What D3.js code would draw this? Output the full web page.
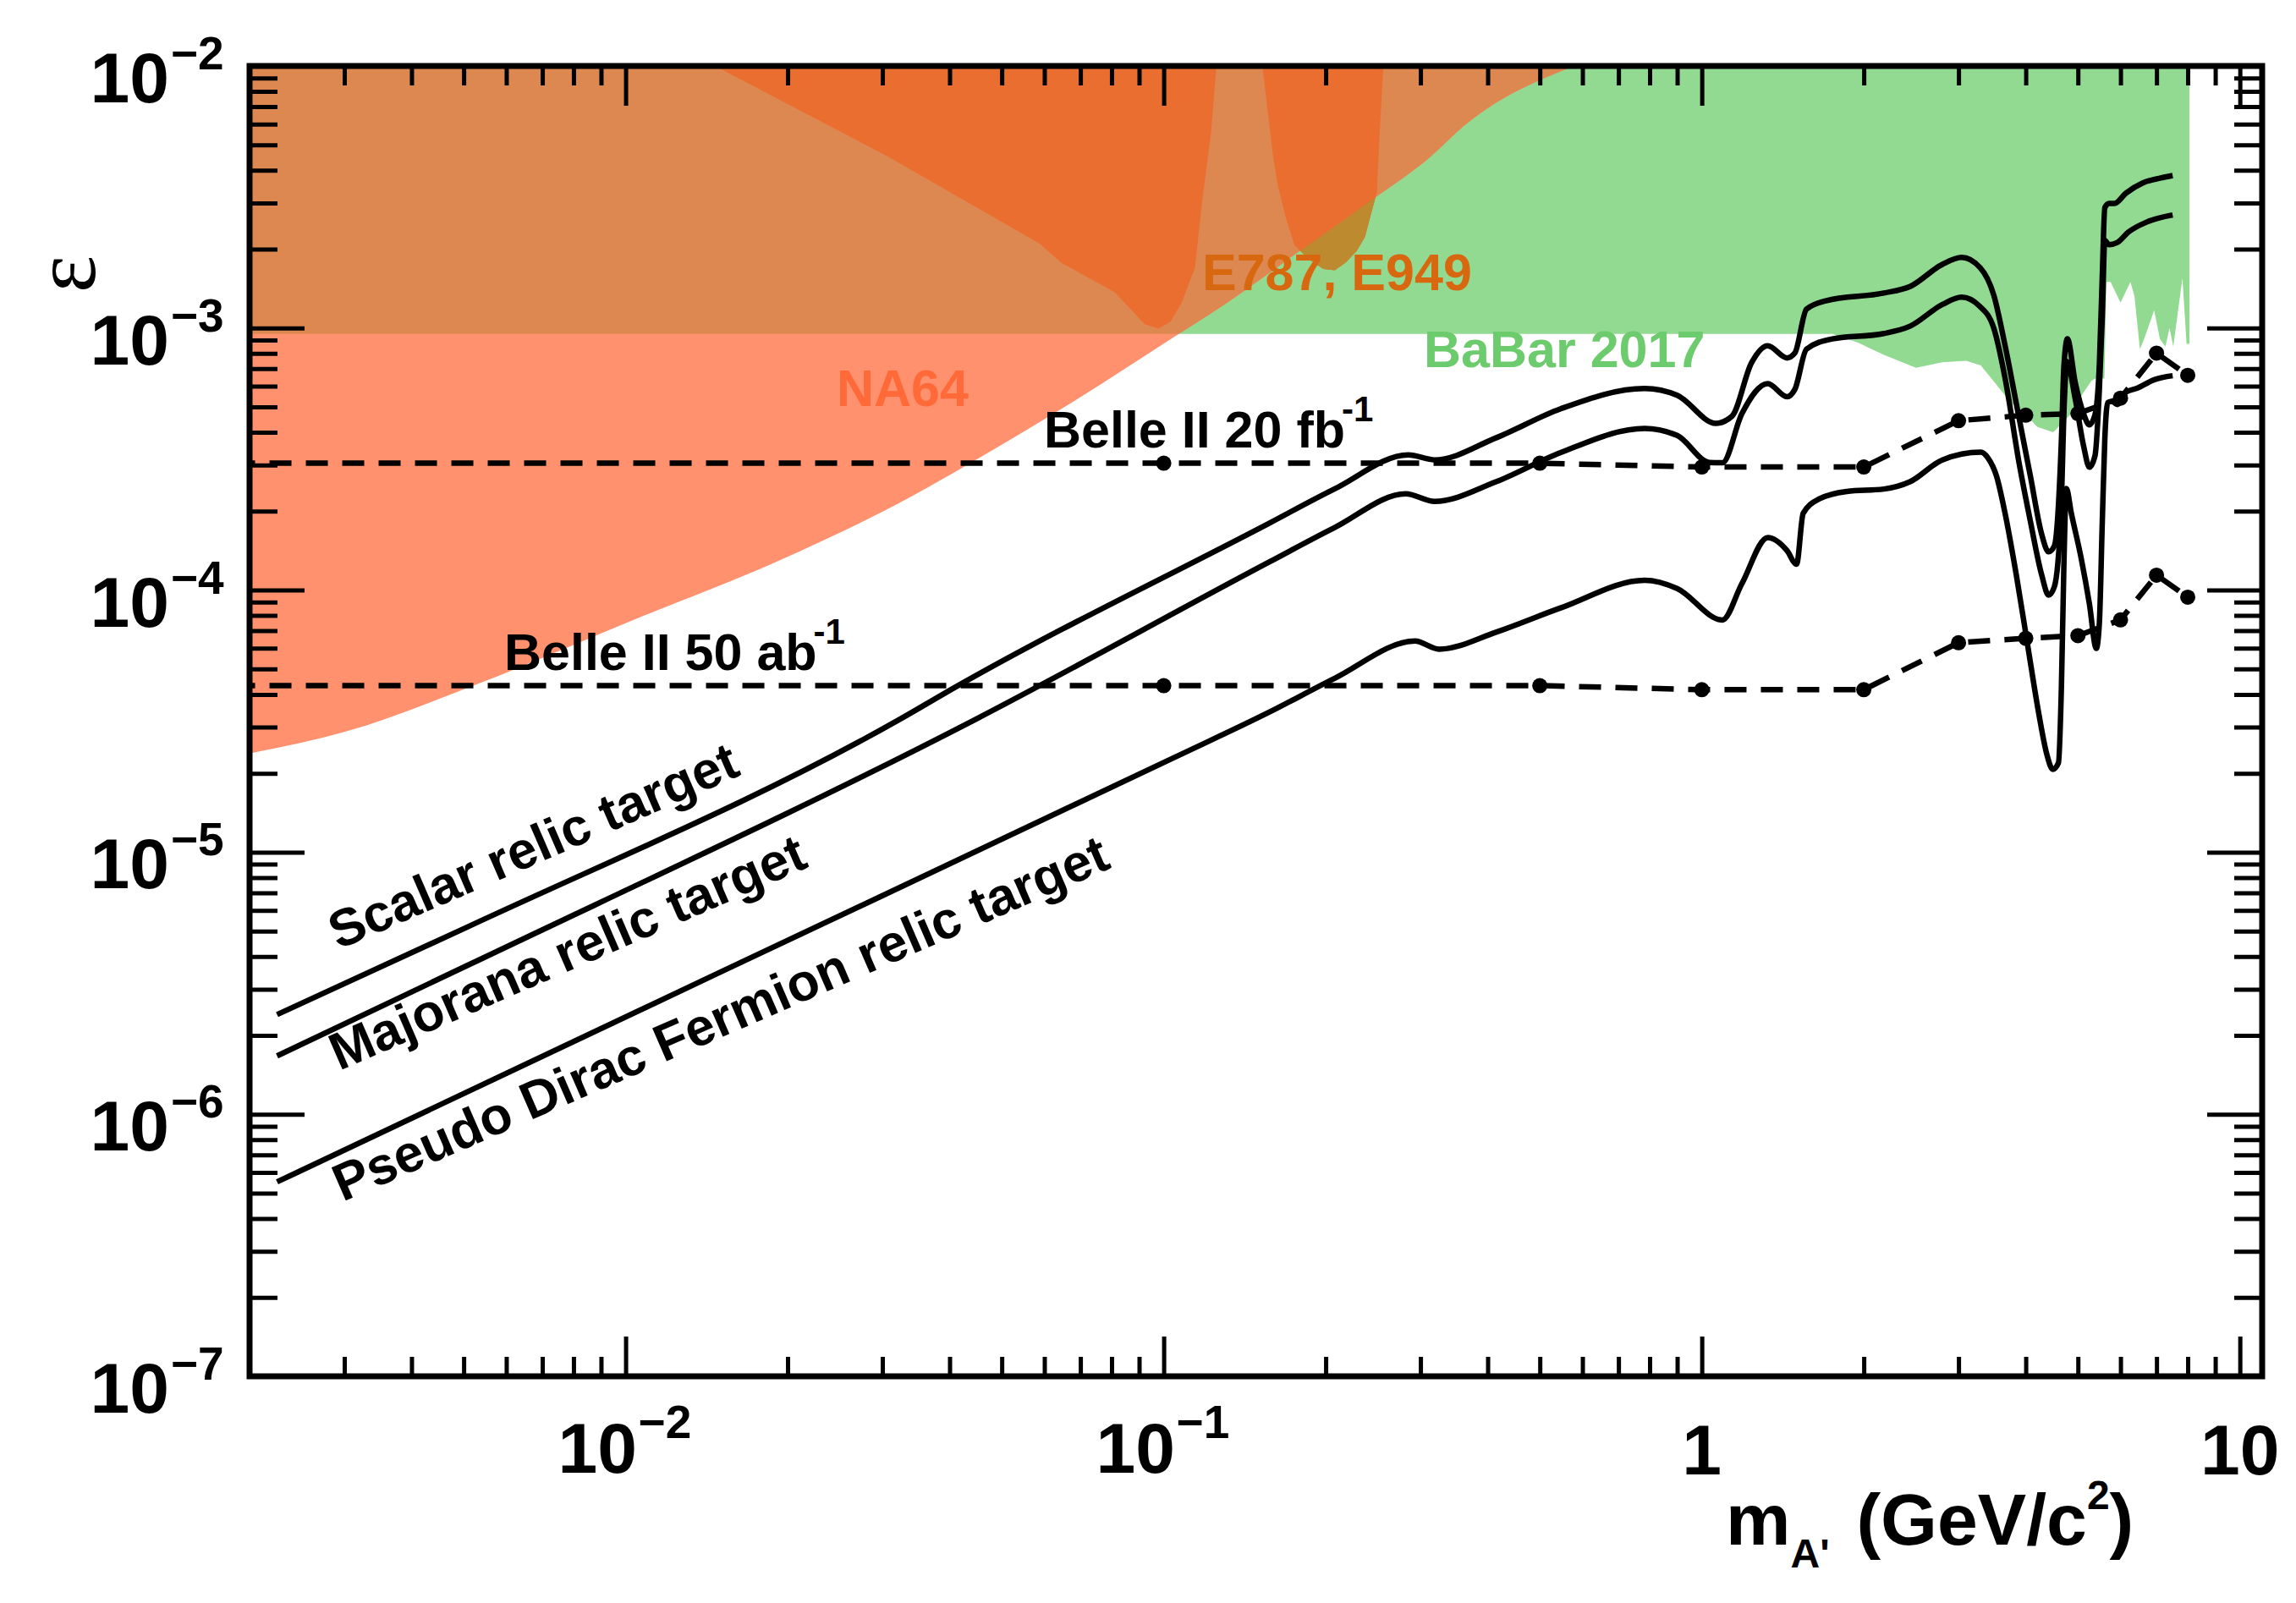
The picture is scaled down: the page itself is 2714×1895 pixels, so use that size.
<!DOCTYPE html>
<html>
<head>
<meta charset="utf-8">
<script src="https://cdn.jsdelivr.net/npm/d3@7"></script>
<style>
  body { margin: 0; background: #fff; }
  text { font-family: "Liberation Sans", Arial, Helvetica, sans-serif; font-weight: bold; }
</style>
</head>
<body>
<div id="graph"></div>
<script>
// ---- data (mass in GeV, epsilon) ----
var na64Mass = [0.002, 0.00301, 0.00521, 0.0106, 0.019, 0.034, 0.0439, 0.069, 0.105, 0.1297, 0.176, 0.244, 0.313, 0.361, 0.58];
var na64Eps  = [2.38e-5, 2.88e-5, 4.32e-5, 7.86e-5, 1.28e-4, 2.28e-4, 3.07e-4, 5.35e-4, 9.3e-4, 1.23e-3, 1.92e-3, 3.09e-3, 4.5e-3, 5.9e-3, 1e-2];
var na64Band = 9.5e-4; // where the NA64 colour changes

var babarMass = [0.05, 0.05, 8.06, 8.06, 7.96, 7.82, 7.52, 7.40, 7.27, 7.10, 6.93, 6.64, 6.52, 6.37, 6.26, 6.0, 5.75, 5.65, 5.6, 5.45, 5.3, 5.1, 4.85, 4.5, 4.2, 3.95, 3.75, 3.5, 3.3, 3.1, 2.8, 2.5, 2.18, 1.95, 1.75];
var babarEps  = [9.5e-4, 1e-2, 1e-2, 8.7e-4, 8.7e-4, 1.55e-3, 8.5e-4, 1.0e-3, 8.5e-4, 9.1e-4, 1.17e-3, 9.1e-4, 8.3e-4, 1.32e-3, 1.5e-3, 1.25e-3, 1.5e-3, 1.5e-3, 6.4e-4, 6.5e-4, 6.3e-4, 5.6e-4, 4.7e-4, 4.0e-4, 4.2e-4, 4.8e-4, 5.2e-4, 6.2e-4, 7.2e-4, 7.5e-4, 7.4e-4, 7.06e-4, 7.9e-4, 8.8e-4, 9.5e-4];

var e787aMass = [0.01466, 0.0308, 0.0588, 0.0646, 0.0811, 0.0922, 0.0978, 0.103, 0.108, 0.1143, 0.118, 0.1225, 0.1253];
var e787aEps  = [1e-2, 4.5e-3, 2.1e-3, 1.77e-3, 1.37e-3, 1.035e-3, 9.94e-4, 1.06e-3, 1.25e-3, 1.7e-3, 3.1e-3, 5.6e-3, 1e-2];
var e787bMass = [0.1525, 0.1597, 0.163, 0.169, 0.175, 0.186, 0.198, 0.208, 0.218, 0.2285, 0.2366, 0.2427, 0.249, 0.252, 0.256];
var e787bEps  = [1e-2, 4.5e-3, 3.48e-3, 2.59e-3, 2.07e-3, 1.83e-3, 1.68e-3, 1.66e-3, 1.78e-3, 1.97e-3, 2.23e-3, 2.72e-3, 3.3e-3, 5.6e-3, 1e-2];

var scalarMass = [0.00225, 0.0051, 0.0322, 0.0413, 0.157, 0.2075, 0.285, 0.3186, 0.4145, 0.5466, 0.783, 0.90, 1.062, 1.138, 1.237, 1.326, 1.44, 1.489, 1.565, 1.70, 2.18, 2.437, 2.80, 3.04, 3.29, 3.49, 3.66, 3.89, 4.08, 4.28, 4.41, 4.52, 4.66, 4.71, 4.78, 4.94, 5.13, 5.25, 5.38, 5.48, 5.55, 5.61, 5.71, 5.85, 6.14, 6.60, 7.10, 7.50];
var scalarEps  = [2.4e-6, 5.2e-6, 3.2e-5, 4.3e-5, 1.8e-4, 2.43e-4, 3.28e-4, 3.14e-4, 3.81e-4, 4.92e-4, 5.88e-4, 5.54e-4, 4.33e-4, 4.61e-4, 7.37e-4, 8.56e-4, 7.69e-4, 8.03e-4, 1.18e-3, 1.27e-3, 1.36e-3, 1.44e-3, 1.75e-3, 1.86e-3, 1.70e-3, 1.33e-3, 8.6e-4, 4.5e-4, 2.72e-4, 1.64e-4, 1.40e-4, 1.475e-4, 3.76e-4, 7.2e-4, 9.1e-4, 6.23e-4, 4.67e-4, 4.27e-4, 4.67e-4, 7.2e-4, 1.59e-3, 2.88e-3, 2.99e-3, 2.99e-3, 3.27e-3, 3.58e-3, 3.73e-3, 3.82e-3];

var majoranaMass = [0.00225, 0.0051, 0.0448, 0.157, 0.2075, 0.2818, 0.3186, 0.4145, 0.5466, 0.783, 0.90, 1.033, 1.092, 1.187, 1.326, 1.44, 1.489, 1.565, 1.748, 2.18, 2.437, 2.80, 3.04, 3.28, 3.49, 3.66, 3.89, 4.08, 4.28, 4.41, 4.52, 4.65, 4.72, 4.77, 4.94, 5.13, 5.25, 5.38, 5.48, 5.55, 5.61, 5.71, 5.92, 6.20, 6.72, 7.50];
var majoranaEps  = [1.67e-6, 3.71e-6, 3.22e-5, 1.28e-4, 1.73e-4, 2.33e-4, 2.18e-4, 2.59e-4, 3.35e-4, 4.14e-4, 3.89e-4, 3.07e-4, 3.06e-4, 4.71e-4, 6.14e-4, 5.47e-4, 5.83e-4, 8.31e-4, 9.09e-4, 9.53e-4, 1.016e-3, 1.23e-3, 1.312e-3, 1.214e-3, 9.96e-4, 6.46e-4, 3.03e-4, 1.83e-4, 1.147e-4, 9.57e-5, 1.029e-4, 1.968e-4, 5.4e-4, 7.46e-4, 5.4e-4, 3.5e-4, 2.945e-4, 3.26e-4, 5.8e-4, 1.109e-3, 2.16e-3, 2.08e-3, 2.12e-3, 2.32e-3, 2.54e-3, 2.70e-3];

var pseudoMass = [0.00225, 0.01506, 0.1057, 0.157, 0.2075, 0.2932, 0.3249, 0.4145, 0.5466, 0.783, 0.90, 1.092, 1.187, 1.326, 1.44, 1.50, 1.543, 1.654, 1.86, 2.18, 2.437, 2.80, 3.30, 3.40, 3.53, 3.66, 3.84, 4.03, 4.23, 4.38, 4.49, 4.60, 4.66, 4.71, 4.76, 4.86, 5.07, 5.25, 5.41, 5.48, 5.55, 5.61, 5.68, 5.78, 5.92, 6.14, 6.45, 6.93, 7.50];
var pseudoEps  = [5.52e-7, 3.5e-6, 2.32e-5, 3.42e-5, 4.6e-5, 6.39e-5, 5.95e-5, 6.91e-5, 8.55e-5, 1.09e-4, 1.014e-4, 7.69e-5, 1.058e-4, 1.587e-4, 1.415e-4, 1.255e-4, 1.964e-4, 2.23e-4, 2.38e-4, 2.43e-4, 2.59e-4, 3.14e-4, 3.36e-4, 3.2e-4, 2.72e-4, 1.97e-4, 1.147e-4, 6.21e-5, 3.37e-5, 2.35e-5, 2.07e-5, 2.19e-5, 4.33e-5, 1.277e-4, 2.44e-4, 1.97e-4, 1.324e-4, 8.91e-5, 5.99e-5, 7.44e-5, 1.83e-4, 3.76e-4, 5.2e-4, 5.25e-4, 5.11e-4, 5.69e-4, 5.9e-4, 6.35e-4, 6.58e-4];

var belleMass  = [0.001, 0.1, 0.5, 1, 2, 3, 4, 5, 6, 7, 8];
var belle20Eps = [3.05e-4, 3.05e-4, 3.05e-4, 2.95e-4, 2.95e-4, 4.43e-4, 4.65e-4, 4.72e-4, 5.4e-4, 8.02e-4, 6.6e-4];
var belle50Eps = [4.32e-5, 4.32e-5, 4.32e-5, 4.17e-5, 4.17e-5, 6.3e-5, 6.55e-5, 6.7e-5, 7.7e-5, 1.14e-4, 9.4e-5];

var xMajor = [0.01, 0.1, 1, 10];
var xMajorLabels = [["10", "\u22122"], ["10", "\u22121"], ["1", ""], ["10", ""]];
var yMajor = [1e-2, 1e-3, 1e-4, 1e-5, 1e-6, 1e-7];
var yMajorLabels = ["\u22122", "\u22123", "\u22124", "\u22125", "\u22126", "\u22127"];

// ---- layout ----
var width = 2714, height = 1895;
var padL = 295, padR = 2674, padT = 78, padB = 1627;

var svg = d3.select("#graph")
            .append("svg")
            .attr("width", width).attr("height", height);

var xScale = d3.scaleLog().domain([0.002, 11]).range([padL, padR]);
var yScale = d3.scaleLog().domain([1e-7, 1e-2]).range([padB, padT]);

var defs = svg.append("defs");
defs.append("clipPath").attr("id", "plot")
    .append("rect").attr("x", padL).attr("y", padT)
    .attr("width", padR - padL).attr("height", padB - padT);
defs.append("clipPath").attr("id", "band")
    .append("rect").attr("x", padL).attr("y", padT)
    .attr("width", padR - padL).attr("height", yScale(na64Band) - padT);

var na64Pts = d3.zip(na64Mass, na64Eps);
var na64Area = d3.area()
    .x(function(d) { return xScale(d[0]); })
    .y0(padT)
    .y1(function(d) { return yScale(d[1]); })
    .curve(d3.curveMonotoneX);
var belowNa64 = d3.area()
    .x(function(d) { return xScale(d[0]); })
    .y0(padB)
    .y1(function(d) { return yScale(d[1]); })
    .curve(d3.curveMonotoneX);
defs.append("clipPath").attr("id", "right-of-na64")
    .append("path").attr("d", belowNa64(na64Pts));

var poly = d3.line()
    .x(function(d) { return xScale(d[0]); })
    .y(function(d) { return yScale(d[1]); });
var smooth = d3.line()
    .x(function(d) { return xScale(d[0]); })
    .y(function(d) { return yScale(d[1]); })
    .curve(d3.curveMonotoneX);

var plot = svg.append("g").attr("clip-path", "url(#plot)");

// BaBar 2017
plot.append("path")
    .attr("d", poly(d3.zip(babarMass, babarEps)) + "Z")
    .attr("fill", "#92DA92");

// NA64
plot.append("path").attr("d", na64Area(na64Pts)).attr("fill", "#FF916F");
plot.append("g").attr("clip-path", "url(#band)")
    .append("path").attr("d", na64Area(na64Pts)).attr("fill", "#DE8851");

// E787, E949
var e787 = [d3.zip(e787aMass, e787aEps), d3.zip(e787bMass, e787bEps)];
plot.selectAll("path.e787")
    .data(e787).enter().append("path")
    .attr("class", "e787")
    .attr("d", function(d) { return poly(d) + "Z"; })
    .attr("fill", "#EB6E31");
plot.append("g").attr("clip-path", "url(#right-of-na64)")
    .selectAll("path")
    .data(e787).enter().append("path")
    .attr("d", function(d) { return poly(d) + "Z"; })
    .attr("fill", "#BD8A2F");

// Belle II projections
[belle20Eps, belle50Eps].forEach(function(eps) {
  var pts = d3.zip(belleMass, eps);
  plot.append("path")
      .attr("d", poly(pts))
      .attr("fill", "none").attr("stroke", "#000")
      .attr("stroke-width", 6.5).attr("stroke-dasharray", "26,17");
  plot.selectAll(null)
      .data(pts).enter().append("circle")
      .attr("cx", function(d) { return xScale(d[0]); })
      .attr("cy", function(d) { return yScale(d[1]); })
      .attr("r", 9).attr("fill", "#000");
});

// relic targets
[[scalarMass, scalarEps], [majoranaMass, majoranaEps], [pseudoMass, pseudoEps]].forEach(function(s) {
  plot.append("path")
      .attr("d", smooth(d3.zip(s[0], s[1])))
      .attr("fill", "none").attr("stroke", "#000")
      .attr("stroke-width", 6.5).attr("stroke-linejoin", "round");
});

// ---- labels inside the plot ----
function label(txt, x, y, color) {
  return svg.append("text").attr("x", x).attr("y", y)
            .attr("font-size", 61).attr("fill", color).text(txt);
}
label("NA64", 989, 480, "#FF6A38");
label("E787, E949", 1421, 343, "#D8680F");
label("BaBar 2017", 1683, 434, "#6CCB6C");

var b20 = svg.append("text").attr("x", 1234).attr("y", 529).attr("font-size", 61);
b20.append("tspan").text("Belle II 20 fb");
b20.append("tspan").attr("font-size", 42).attr("dx", -4).attr("dy", -31).text("-1");
var b50 = svg.append("text").attr("x", 596).attr("y", 792).attr("font-size", 61);
b50.append("tspan").text("Belle II 50 ab");
b50.append("tspan").attr("font-size", 42).attr("dx", -4).attr("dy", -31).text("-1");

[["Scalar relic target", 400, 1123], ["Majorana relic target", 401, 1266], ["Pseudo Dirac Fermion relic target", 405, 1421]]
  .forEach(function(t) {
    svg.append("text")
       .attr("transform", "translate(" + t[1] + "," + t[2] + ") rotate(-23.5)")
       .attr("font-size", 62).text(t[0]);
  });

// ---- axes ----
var xMinor = [], yMinor = [];
[0.001, 0.01, 0.1, 1].forEach(function(d) { d3.range(2, 10).forEach(function(k) { if (k * d > 0.0021) xMinor.push(k * d); }); });
[1e-7, 1e-6, 1e-5, 1e-4, 1e-3].forEach(function(d) { d3.range(2, 10).forEach(function(k) { yMinor.push(k * d); }); });

function ticks(axis, tx, ty) {
  var g = svg.append("g").attr("transform", "translate(" + tx + "," + ty + ")").call(axis);
  g.select(".domain").remove();
  g.selectAll("line").attr("stroke", "#000").attr("stroke-width", 5);
  g.selectAll("text").remove();
}
ticks(d3.axisBottom(xScale).tickValues(xMinor).tickSizeInner(-23).tickSizeOuter(0), 0, padB);
ticks(d3.axisBottom(xScale).tickValues(xMajor).tickSizeInner(-47).tickSizeOuter(0), 0, padB);
ticks(d3.axisTop(xScale).tickValues(xMinor).tickSizeInner(-23).tickSizeOuter(0), 0, padT);
ticks(d3.axisTop(xScale).tickValues(xMajor).tickSizeInner(-47).tickSizeOuter(0), 0, padT);
ticks(d3.axisLeft(yScale).tickValues(yMinor).tickSizeInner(-33).tickSizeOuter(0), padL, 0);
ticks(d3.axisLeft(yScale).tickValues(yMajor).tickSizeInner(-65).tickSizeOuter(0), padL, 0);
ticks(d3.axisRight(yScale).tickValues(yMinor).tickSizeInner(-33).tickSizeOuter(0), padR, 0);
ticks(d3.axisRight(yScale).tickValues(yMajor).tickSizeInner(-65).tickSizeOuter(0), padR, 0);

svg.append("rect")
   .attr("x", padL).attr("y", padT)
   .attr("width", padR - padL).attr("height", padB - padT)
   .attr("fill", "none").attr("stroke", "#000").attr("stroke-width", 7);

// tick labels
yMajor.forEach(function(v, i) {
  svg.append("text").attr("x", 200).attr("y", yScale(v) + 43)
     .attr("text-anchor", "end").attr("font-size", 84).text("10");
  svg.append("text").attr("x", 202).attr("y", yScale(v) + 4)
     .attr("font-size", 55).text(yMajorLabels[i]);
});
xMajor.forEach(function(v, i) {
  var lab = xMajorLabels[i];
  if (lab[1]) {
    svg.append("text").attr("x", xScale(v) - 80).attr("y", 1741)
       .attr("font-size", 84).text(lab[0]);
    svg.append("text").attr("x", xScale(v) + 15).attr("y", 1700)
       .attr("font-size", 55).text(lab[1]);
  } else {
    svg.append("text").attr("x", xScale(v)).attr("y", 1743)
       .attr("text-anchor", "middle").attr("font-size", 84).text(lab[0]);
  }
});

// axis titles
var xt = svg.append("text").attr("x", 2040).attr("y", 1826).attr("font-size", 86);
xt.append("tspan").text("m");
xt.append("tspan").attr("font-size", 48).attr("dy", 27).text("A'");
xt.append("tspan").attr("dx", 8).attr("dy", -27).text(" (GeV/c");
xt.append("tspan").attr("font-size", 48).attr("dy", -42).text("2");
xt.append("tspan").attr("dy", 42).text(")");

svg.append("text")
   .attr("transform", "translate(112,324) rotate(-90)")
   .attr("text-anchor", "middle")
   .style("font-family", "'Liberation Serif', 'DejaVu Serif', serif")
   .style("font-weight", "normal")
   .attr("font-size", 105).text("\u03b5");
</script>
</body>
</html>
